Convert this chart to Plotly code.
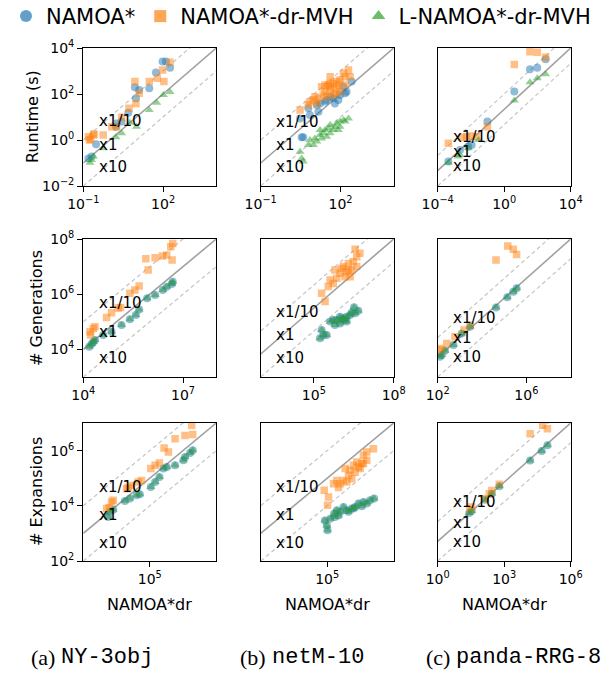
import plotly.graph_objects as go

# ---------------- data (log10 values) ----------------
# Row 1: Runtime (s)
ny_rt_namoa_x = [1.98, 2.11, 2.26, 1.73, 0.94, 1.10, 1.48, 0.98, 0.69, 0.44, 0.25, 0.23, -0.52, -0.69, -0.81]
ny_rt_namoa_y = [3.41, 3.41, 3.14, 2.93, 2.29, 2.17, 2.25, 1.81, 1.19, 0.80, 0.72, 0.58, -0.19, -0.72, -0.80]
ny_rt_dr_x = [2.26, 1.98, 1.78, 2.03, 1.48, 0.94, 0.98, 1.10, 0.72, 0.44, 0.07, 0.25, -0.25, -0.62, -0.81, -0.72, -0.60, -0.77]
ny_rt_dr_y = [3.38, 3.04, 2.68, 2.54, 2.54, 2.54, 1.59, 2.03, 1.38, 0.99, 0.58, 0.58, 0.22, 0.22, 0.14, 0.03, 0.26, 0.00]
ny_rt_l_x = [2.26, 2.01, 1.76, 1.48, 1.00, 0.75, 0.44, 0.23, -0.25, -0.62, -0.75, -0.69]
ny_rt_l_y = [2.09, 1.96, 1.62, 1.30, 0.58, 0.75, 0.29, 0.12, -0.36, -0.72, -0.99, -0.87]

nm_rt_namoa_x = [2.42, 2.23, 1.98, 1.73, 1.48, 1.79, 1.42, 1.11, 0.79, 1.17, 0.85, 0.48, 0.54, 0.60, 2.11, 1.61, 1.92, 1.23, 2.17]
nm_rt_namoa_y = [2.54, 2.10, 1.96, 1.81, 1.74, 1.59, 1.67, 1.52, 1.38, 1.23, 1.09, 0.94, 0.12, 0.12, 2.32, 1.88, 1.74, 1.59, 2.03]
nm_rt_dr_x = [2.30, 2.11, 2.36, 1.98, 1.73, 1.54, 1.29, 1.86, 1.61, 1.42, 1.98, 1.73, 1.48, 1.17, 0.98, 0.85, 1.11, 0.79,
              1.61, 2.17, 1.86, 0.48, 1.42, 1.79, 1.61, 1.92, 1.35, 1.04, 2.17, 1.61]
nm_rt_dr_y = [3.04, 2.90, 2.75, 2.61, 2.46, 2.39, 2.32, 2.25, 2.17, 2.10, 2.10, 1.96, 1.88, 1.81, 1.74, 1.67, 1.59, 1.52,
              2.46, 2.39, 2.54, 1.30, 2.39, 2.03, 2.32, 2.39, 1.96, 1.88, 2.75, 2.75]
nm_rt_l_x = [2.30, 2.11, 1.86, 1.61, 1.42, 1.23, 1.61, 1.48, 1.29, 1.11, 0.98, 0.79, 1.92, 1.98, 1.73, 0.85, 0.48, 0.54,
             0.60, 1.23, 2.17, 1.54, 1.79, 1.36, 1.04, 1.98]
nm_rt_l_y = [0.94, 0.87, 0.72, 0.65, 0.43, 0.43, 0.29, 0.14, 0.07, -0.07, -0.22, -0.22, 0.43, 0.80, 0.43, 0.00, -0.51, -0.80,
             -0.94, 0.22, 0.80, 0.51, 0.58, 0.29, 0.07, 0.58]

pd_rt_namoa_x = [2.49, 1.99, 1.55, 0.61, -1.01, -2.16, -2.66, -3.36, -1.96]
pd_rt_namoa_y = [3.26, 2.72, 2.61, 1.17, -0.80, -2.43, -2.65, -3.41, -2.33]
pd_rt_dr_x = [1.55, 1.99, 2.49, 0.61, -1.01, -1.66, -2.26, -2.56, -3.36, -1.96]
pd_rt_dr_y = [3.76, 3.72, 3.39, 2.93, -1.13, -1.78, -1.78, -1.83, -2.22, -1.74]
pd_rt_l_x = [2.49, 1.99, 1.55, 0.61, -1.55, -2.16, -2.66, -3.36, -2.76]
pd_rt_l_y = [2.28, 2.02, 1.76, 0.57, -2.00, -2.54, -2.98, -3.48, -3.08]

# Row 2: # Generations
ny_gen_dr_x = [6.69, 6.63, 6.51, 6.38, 6.16, 5.88, 5.95, 6.67, 5.68, 5.55, 5.40, 5.12, 4.85, 4.70, 4.35, 4.30, 4.20, 4.22, 5.05]
ny_gen_dr_y = [7.84, 7.72, 7.42, 7.38, 7.32, 7.28, 6.88, 7.24, 6.30, 6.15, 6.03, 5.52, 5.33, 5.16, 4.82, 4.76, 4.64, 4.52, 5.50]
ny_gen_l_x = [6.69, 6.66, 6.51, 6.39, 6.16, 5.92, 5.68, 5.58, 5.40, 5.15, 4.85, 4.60, 4.35, 4.25, 4.18, 4.30]
ny_gen_l_y = [6.45, 6.37, 6.27, 6.15, 5.97, 5.85, 5.45, 5.25, 5.09, 4.88, 4.64, 4.52, 4.34, 4.20, 4.10, 4.27]
ny_gen_namoa_x = [6.69, 6.66, 6.51, 6.39, 6.16, 5.92, 5.68, 5.58, 5.40, 5.15, 4.85, 4.60, 4.35, 4.25, 4.18, 4.30]
ny_gen_namoa_y = [6.45, 6.37, 6.27, 6.15, 5.97, 5.85, 5.45, 5.25, 5.09, 4.88, 4.64, 4.52, 4.34, 4.20, 4.10, 4.27]

nm_gen_dr_x = [6.55, 6.73, 6.61, 6.48, 6.30, 6.11, 6.61, 6.42, 6.23, 5.98, 5.79, 6.17, 6.36, 5.86, 5.61, 5.73, 5.54, 5.29, 5.42, 6.05, 6.30]
nm_gen_dr_y = [7.55, 7.38, 7.23, 7.01, 6.94, 6.80, 6.80, 6.65, 6.58, 6.51, 6.65, 6.36, 6.36, 6.29, 6.22, 6.07, 5.93, 5.64, 5.28, 6.72, 6.65]
nm_gen_l_x = [6.51, 6.67, 6.55, 6.36, 6.23, 6.11, 5.98, 5.86, 5.73, 5.61, 5.79, 5.98, 6.23, 6.17, 5.29, 5.36, 5.48, 5.23, 6.42, 6.05]
nm_gen_l_y = [5.03, 4.88, 4.77, 4.70, 4.62, 4.55, 4.62, 4.48, 4.48, 4.41, 4.26, 4.33, 4.41, 4.48, 4.04, 3.83, 3.83, 3.68, 4.80, 4.50]
nm_gen_namoa_x = [6.51, 6.67, 6.55, 6.36, 6.23, 6.11, 5.98, 5.86, 5.73, 5.61, 5.79, 5.98, 6.23, 6.17, 5.29, 5.36, 5.48, 5.23, 6.42, 6.05]
nm_gen_namoa_y = [5.03, 4.88, 4.77, 4.70, 4.62, 4.55, 4.62, 4.48, 4.48, 4.41, 4.26, 4.33, 4.41, 4.48, 4.04, 3.83, 3.83, 3.68, 4.80, 4.50]

pd_gen_dr_x = [5.16, 5.41, 5.56, 4.63, 3.46, 3.19, 2.78, 2.41, 2.18, 2.10]
pd_gen_dr_y = [7.64, 7.48, 7.22, 6.93, 3.63, 3.38, 3.04, 2.70, 2.37, 2.45]
pd_gen_l_x = [5.56, 5.41, 5.14, 4.63, 3.46, 3.08, 2.71, 2.33, 2.18, 2.10]
pd_gen_l_y = [5.50, 5.33, 5.04, 4.53, 3.55, 3.21, 2.62, 2.33, 2.11, 2.03]
pd_gen_namoa_x = [5.56, 5.41, 5.14, 4.63, 3.46, 3.08, 2.71, 2.33, 2.18, 2.10]
pd_gen_namoa_y = [5.50, 5.33, 5.04, 4.53, 3.55, 3.21, 2.62, 2.33, 2.11, 2.03]

# Row 3: # Expansions
ny_exp_dr_x = [6.26, 6.29, 6.06, 5.76, 5.43, 5.56, 5.29, 5.16, 5.03, 4.75, 4.65, 4.45, 4.35, 3.90, 3.85, 3.78, 3.70, 4.30]
ny_exp_dr_y = [6.92, 6.58, 6.55, 6.43, 6.09, 5.95, 5.55, 5.47, 5.35, 4.92, 4.86, 4.74, 4.66, 4.20, 4.14, 3.93, 3.90, 4.62]
ny_exp_l_x = [6.29, 6.21, 6.06, 6.01, 5.76, 5.51, 5.41, 5.29, 5.16, 5.03, 4.70, 4.60, 4.40, 4.25, 3.90, 3.80, 3.75]
ny_exp_l_y = [6.01, 5.91, 5.77, 5.65, 5.47, 5.41, 5.35, 5.04, 4.86, 4.68, 4.42, 4.38, 4.26, 4.17, 3.86, 3.78, 3.59]
ny_exp_namoa_x = [6.29, 6.21, 6.06, 6.01, 5.76, 5.51, 5.41, 5.29, 5.16, 5.03, 4.70, 4.60, 4.40, 4.25, 3.90, 3.80, 3.75]
ny_exp_namoa_y = [6.01, 5.91, 5.77, 5.65, 5.47, 5.41, 5.35, 5.04, 4.86, 4.68, 4.42, 4.38, 4.26, 4.17, 3.86, 3.78, 3.59]

nm_exp_dr_x = [6.39, 6.19, 6.09, 6.19, 6.04, 5.89, 5.79, 5.99, 5.69, 5.84, 5.54, 5.64, 5.74, 5.49, 5.29, 5.39, 5.19, 5.34,
               5.59, 4.91, 5.04, 5.01, 5.94, 6.09]
nm_exp_dr_y = [6.07, 5.95, 5.83, 5.65, 5.53, 5.59, 5.47, 5.35, 5.29, 5.22, 5.35, 5.10, 4.98, 4.92, 4.92, 4.80, 4.80, 4.66,
               4.86, 4.56, 4.32, 4.02, 5.41, 5.53]
nm_exp_l_x = [6.41, 6.29, 6.19, 6.09, 6.04, 5.94, 5.84, 5.74, 5.59, 5.49, 5.39, 5.29, 5.21, 5.34, 5.09, 5.23, 4.93, 4.99, 5.01, 5.79, 5.64]
nm_exp_l_y = [4.26, 4.20, 4.08, 4.14, 3.98, 4.08, 3.96, 3.90, 3.84, 3.96, 3.78, 3.84, 3.72, 3.65, 3.53, 3.59, 3.47, 3.29, 3.11, 3.90, 3.78]
nm_exp_namoa_x = [6.41, 6.29, 6.19, 6.09, 6.04, 5.94, 5.84, 5.74, 5.59, 5.49, 5.39, 5.29, 5.21, 5.34, 5.09, 5.23, 4.93, 4.99, 5.01, 5.79, 5.64]
nm_exp_namoa_y = [4.26, 4.20, 4.08, 4.14, 3.98, 4.08, 3.96, 3.90, 3.84, 3.96, 3.78, 3.84, 3.72, 3.65, 3.53, 3.59, 3.47, 3.29, 3.11, 3.90, 3.78]

pd_exp_dr_x = [4.74, 4.95, 4.17, 2.78, 2.44, 2.33, 2.14, 1.53, 1.45]
pd_exp_dr_y = [5.88, 5.71, 5.46, 2.89, 2.58, 2.41, 2.16, 1.74, 1.60]
pd_exp_l_x = [4.95, 4.69, 4.17, 2.78, 2.44, 2.14, 1.53, 1.42]
pd_exp_l_y = [4.87, 4.58, 4.10, 2.79, 2.41, 2.11, 1.53, 1.43]
pd_exp_namoa_x = [4.95, 4.69, 4.17, 2.78, 2.44, 2.14, 1.53, 1.42]
pd_exp_namoa_y = [4.87, 4.58, 4.10, 2.79, 2.41, 2.11, 1.53, 1.43]

series_names = ["NAMOA*", "NAMOA*-dr-MVH", "L-NAMOA*-dr-MVH"]
row_titles = ["Runtime (s)", "# Generations", "# Expansions"]
x_title = "NAMOA*dr"
caption_tags = ["(a)", "(b)", "(c)"]
caption_names = ["NY-3obj", "netM-10", "panda-RRG-8"]
ratio_labels = ["x1/10", "x1", "x10"]

# axis ranges (log10) per panel [row][col]
x_ranges = [[(-1, 4), (-1, 4), (-4, 4)],
            [(4, 8), (3, 8), (2, 8)],
            [(3, 7), (3, 7), (0, 6)]]
y_ranges = [[(-2, 4), (-2, 4), (-5, 4)],
            [(3, 8), (2, 8), (1, 8)],
            [(2, 7), (2, 7), (-1, 6)]]
x_tick_exps = [[[-1, 2], [-1, 2], [-4, 0, 4]],
               [[4, 7], [5, 8], [2, 6]],
               [[5], [5], [0, 3, 6]]]
y_tick_exps = [[4, 2, 0, -2], [8, 6, 4], [6, 4, 2]]

panels = [
    [(ny_rt_namoa_x, ny_rt_namoa_y, ny_rt_dr_x, ny_rt_dr_y, ny_rt_l_x, ny_rt_l_y),
     (nm_rt_namoa_x, nm_rt_namoa_y, nm_rt_dr_x, nm_rt_dr_y, nm_rt_l_x, nm_rt_l_y),
     (pd_rt_namoa_x, pd_rt_namoa_y, pd_rt_dr_x, pd_rt_dr_y, pd_rt_l_x, pd_rt_l_y)],
    [(ny_gen_namoa_x, ny_gen_namoa_y, ny_gen_dr_x, ny_gen_dr_y, ny_gen_l_x, ny_gen_l_y),
     (nm_gen_namoa_x, nm_gen_namoa_y, nm_gen_dr_x, nm_gen_dr_y, nm_gen_l_x, nm_gen_l_y),
     (pd_gen_namoa_x, pd_gen_namoa_y, pd_gen_dr_x, pd_gen_dr_y, pd_gen_l_x, pd_gen_l_y)],
    [(ny_exp_namoa_x, ny_exp_namoa_y, ny_exp_dr_x, ny_exp_dr_y, ny_exp_l_x, ny_exp_l_y),
     (nm_exp_namoa_x, nm_exp_namoa_y, nm_exp_dr_x, nm_exp_dr_y, nm_exp_l_x, nm_exp_l_y),
     (pd_exp_namoa_x, pd_exp_namoa_y, pd_exp_dr_x, pd_exp_dr_y, pd_exp_l_x, pd_exp_l_y)],
]

# ---------------- styling / layout ----------------
W, H = 608, 673
col_px = [(83.3, 216.3), (260.7, 393.7), (437.7, 570.7)]
row_px = [(48, 186), (239, 377), (423, 561)]
colors = ["#1f77b4", "#ff7f0e", "#2ca02c"]
symbols = ["circle", "square", "triangle-up"]
sizes = [8, 7.5, 8]
FONT = "DejaVu Sans"

# label pixel centres (y) per panel for x1/10, x1, x10
label_py = [[(120.7, 145, 167.3), (121.7, 145, 167.3), (136.7, 151.7, 166)],
            [(302.7, 331.7, 358.3), (311.7, 335, 358.3), (318.3, 338.3, 357.3)],
            [(487.3, 515, 542.7), (487.3, 515, 542.7), (501.7, 522.7, 541.7)]]


def sup(e):
    s = str(e).replace("-", "\u2212")
    return "10<sup>" + s + "</sup>"


fig = go.Figure()
layout = dict(width=W, height=H, margin=dict(l=0, r=0, t=0, b=0, pad=0, autoexpand=False),
              paper_bgcolor="white", plot_bgcolor="white",
              font=dict(family=FONT, color="black", size=14),
              showlegend=True)
annotations = []

for r in range(3):
    for c in range(3):
        idx = r * 3 + c + 1
        xa = "xaxis" if idx == 1 else "xaxis%d" % idx
        ya = "yaxis" if idx == 1 else "yaxis%d" % idx
        xr = "x" if idx == 1 else "x%d" % idx
        yr = "y" if idx == 1 else "y%d" % idx
        x0, x1 = col_px[c]
        y0, y1 = row_px[r]
        xdom = [x0 / W, x1 / W]
        ydom = [1 - y1 / H, 1 - y0 / H]
        layout[xa] = dict(domain=xdom, anchor=yr, type="log", range=list(x_ranges[r][c]),
                          tickmode="array", tickvals=[10 ** e for e in x_tick_exps[r][c]],
                          ticktext=[sup(e) for e in x_tick_exps[r][c]],
                          showline=True, mirror=True, linecolor="black", linewidth=1.3,
                          ticks="outside", ticklen=5, tickwidth=1.3, tickcolor="black",
                          showgrid=False, zeroline=False, automargin=False,
                          tickfont=dict(size=14, family=FONT))
        ycfg = dict(domain=ydom, anchor=xr, type="log", range=list(y_ranges[r][c]),
                    showline=True, mirror=True, linecolor="black", linewidth=1.3,
                    showgrid=False, zeroline=False, automargin=False)
        if c == 0:
            ycfg.update(tickmode="array", tickvals=[10 ** e for e in y_tick_exps[r]],
                        ticktext=[sup(e) for e in y_tick_exps[r]],
                        ticks="outside", ticklen=5, tickwidth=1.3, tickcolor="black",
                        tickfont=dict(size=14, family=FONT))
        else:
            ycfg.update(showticklabels=False, ticks="")
        layout[ya] = ycfg

        # reference lines y = x, 10x, x/10
        xa_lo, xa_hi = x_ranges[r][c]
        xs = [10 ** xa_lo, 10 ** xa_hi]
        for fac, dash, col, wd in [(10, "dash", "#c4c4c4", 1.2), (1, "solid", "#a0a0a0", 1.6), (0.1, "dash", "#c4c4c4", 1.2)]:
            fig.add_trace(go.Scatter(x=xs, y=[v * fac for v in xs], mode="lines",
                                     line=dict(color=col, width=wd, dash="4px,3px" if dash == "dash" else "solid"),
                                     xaxis=xr, yaxis=yr, showlegend=False, hoverinfo="skip"))

        data = panels[r][c]
        for k in range(3):
            lx, ly = data[2 * k], data[2 * k + 1]
            fig.add_trace(go.Scatter(x=[10 ** v for v in lx], y=[10 ** v for v in ly], mode="markers",
                                     marker=dict(symbol=symbols[k], size=sizes[k], color=colors[k],
                                                 opacity=0.5, line=dict(width=0)),
                                     xaxis=xr, yaxis=yr, showlegend=False, name=series_names[k]))

        # ratio labels
        for j, lab in enumerate(ratio_labels):
            annotations.append(dict(x=(x0 + 13.5) / W, y=1 - label_py[r][c][j] / H, xref="paper", yref="paper",
                                    text=lab, showarrow=False, xanchor="left", yanchor="middle",
                                    font=dict(size=15, family=FONT, color="black")))

# legend-only traces
for k in range(3):
    fig.add_trace(go.Scatter(x=[None], y=[None], mode="markers", name=series_names[k],
                             marker=dict(symbol=symbols[k], size=12, color=colors[k], opacity=0.7),
                             xaxis="x", yaxis="y", showlegend=True))

layout["legend"] = dict(orientation="h", x=6 / W, xanchor="left", y=1.006, yanchor="top",
                        font=dict(size=21, family=FONT), itemsizing="constant",
                        bgcolor="rgba(0,0,0,0)", traceorder="normal")

# row titles
row_title_x = [32, 37, 37]
for r in range(3):
    y0, y1 = row_px[r]
    annotations.append(dict(x=row_title_x[r] / W, y=1 - (y0 + y1) / 2 / H, xref="paper", yref="paper",
                            text=row_titles[r], textangle=-90, showarrow=False,
                            xanchor="center", yanchor="middle", font=dict(size=16, family=FONT)))
# x titles and captions
for c in range(3):
    x0, x1 = col_px[c]
    annotations.append(dict(x=(x0 + x1) / 2 / W, y=1 - 604 / H, xref="paper", yref="paper",
                            text=x_title, showarrow=False, xanchor="center", yanchor="middle",
                            font=dict(size=16, family=FONT)))
cap_split = [57, 268, 452]
for c in range(3):
    annotations.append(dict(x=cap_split[c] / W, y=1 - 657 / H, xref="paper", yref="paper",
                            text=caption_tags[c], showarrow=False, xanchor="right", yanchor="middle",
                            font=dict(size=22, family="Liberation Serif")))
    annotations.append(dict(x=(cap_split[c] + 2) / W, y=1 - 657 / H, xref="paper", yref="paper",
                            text=caption_names[c], showarrow=False, xanchor="left", yanchor="middle",
                            font=dict(size=22, family="Liberation Mono")))

layout["annotations"] = annotations
fig.update_layout(**layout)
fig.write_html("out.html", config={"displayModeBar": False},
               post_script="document.body.style.margin='0px';document.body.style.overflow='hidden';")
